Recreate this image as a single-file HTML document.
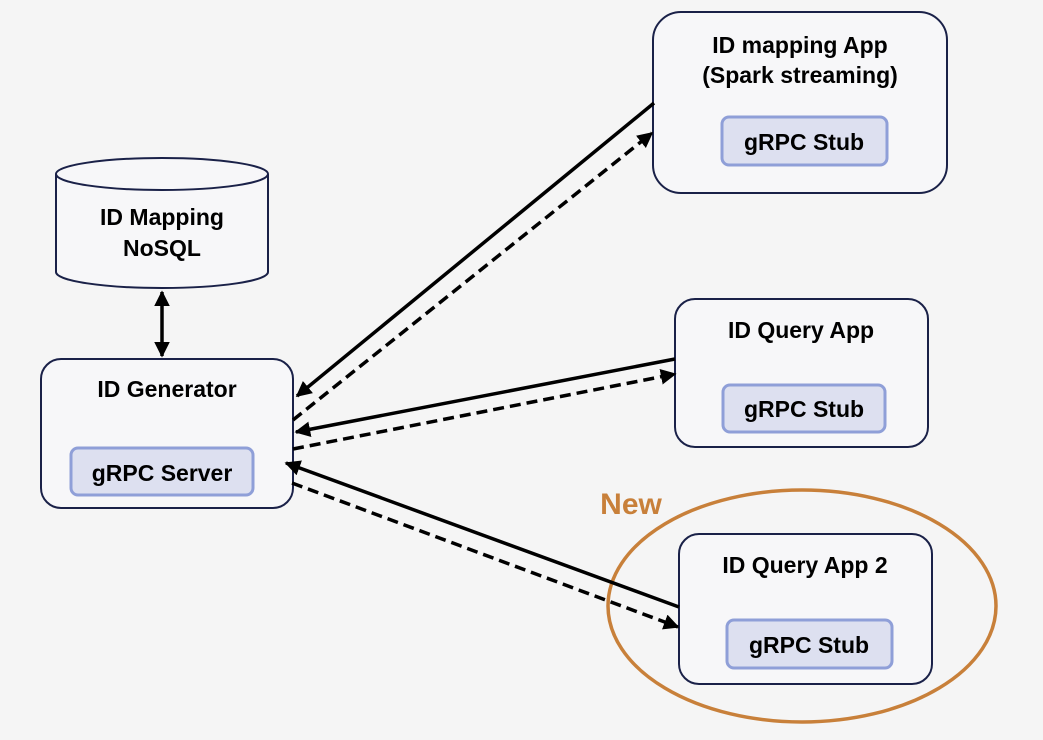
<!DOCTYPE html>
<html><head><meta charset="utf-8"><style>
html,body{margin:0;padding:0;background:#f5f5f5;}
svg text{font-family:"Liberation Sans","Noto Sans CJK KR",sans-serif;font-weight:bold;fill:#000;}
</style></head><body>
<svg width="1043" height="735" viewBox="0 0 1043 735" xmlns="http://www.w3.org/2000/svg">
<defs>
<marker id="a" viewBox="0 0 10 10" refX="9" refY="5" markerWidth="4.5" markerHeight="4.5" orient="auto-start-reverse"><path d="M0,0L10,5L0,10z" fill="#000"/></marker>
</defs>
<rect width="1043" height="735" fill="#f5f5f5"/>
<path d="M56,174 L56,272 A106,16 0 0 0 268,272 L268,174" fill="#f7f7f9" stroke="#1a2148" stroke-width="2"/>
<ellipse cx="162" cy="174" rx="106" ry="16" fill="#f7f7f9" stroke="#1a2148" stroke-width="2"/>
<text x="162" y="225" font-size="23" text-anchor="middle">ID Mapping</text>
<text x="162" y="256" font-size="23" text-anchor="middle">NoSQL</text>
<line x1="162" y1="292" x2="162" y2="356" stroke="#000" stroke-width="3.5" marker-start="url(#a)" marker-end="url(#a)"/>
<rect x="41" y="359" width="252" height="149" rx="20" fill="#f7f7f9" stroke="#1a2148" stroke-width="2"/>
<text x="167" y="397" font-size="23" text-anchor="middle">ID Generator</text>
<rect x="71" y="448" width="182" height="47" rx="7" fill="#dde0f0" stroke="#8f9fd8" stroke-width="3"/>
<text x="162" y="481" font-size="23" text-anchor="middle">gRPC Server</text>
<rect x="653" y="12" width="294" height="181" rx="28" fill="#f7f7f9" stroke="#1a2148" stroke-width="2"/>
<text x="800" y="53" font-size="23" text-anchor="middle">ID mapping App</text>
<text x="800" y="83" font-size="23" text-anchor="middle">(Spark streaming)</text>
<rect x="722" y="117" width="165" height="48" rx="7" fill="#dde0f0" stroke="#8f9fd8" stroke-width="3"/>
<text x="804" y="150" font-size="23" text-anchor="middle">gRPC Stub</text>
<rect x="675" y="299" width="253" height="148" rx="20" fill="#f7f7f9" stroke="#1a2148" stroke-width="2"/>
<text x="801" y="338" font-size="23" text-anchor="middle">ID Query App</text>
<rect x="723" y="385" width="162" height="47" rx="7" fill="#dde0f0" stroke="#8f9fd8" stroke-width="3"/>
<text x="804" y="417" font-size="23" text-anchor="middle">gRPC Stub</text>
<rect x="679" y="534" width="253" height="150" rx="20" fill="#f7f7f9" stroke="#1a2148" stroke-width="2"/>
<text x="805" y="573" font-size="23" text-anchor="middle">ID Query App 2</text>
<rect x="727" y="620" width="165" height="48" rx="7" fill="#dde0f0" stroke="#8f9fd8" stroke-width="3"/>
<text x="809" y="653" font-size="23" text-anchor="middle">gRPC Stub</text>
<ellipse cx="802" cy="606" rx="194" ry="116" fill="none" stroke="#c8803a" stroke-width="3.5"/>
<text x="631" y="514" font-size="30" text-anchor="middle" style="fill:#c8803a">New</text>
<g stroke="#000" stroke-width="3.5" fill="none">
<line x1="654" y1="103" x2="297" y2="396" marker-end="url(#a)"/>
<line x1="293" y1="420" x2="652" y2="133" stroke-dasharray="11,6" marker-end="url(#a)"/>
<line x1="675" y1="359" x2="296" y2="432" marker-end="url(#a)"/>
<line x1="293" y1="449" x2="675" y2="374" stroke-dasharray="11,6" marker-end="url(#a)"/>
<line x1="679" y1="607" x2="286" y2="463" marker-end="url(#a)"/>
<line x1="292" y1="483" x2="678" y2="627" stroke-dasharray="11,6" marker-end="url(#a)"/>
</g>
</svg>
</body></html>
